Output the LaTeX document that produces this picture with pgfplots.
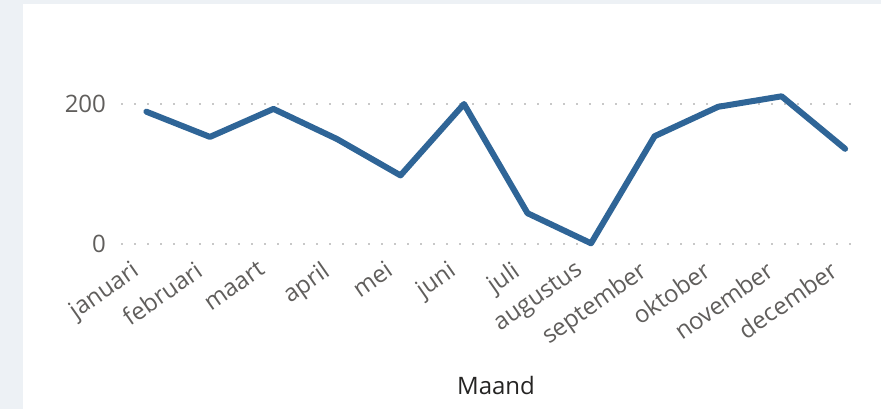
\documentclass[border=0pt]{standalone}
\usepackage{fontspec}
\setmainfont{Open Sans}
\usepackage{pgfplots}
\pgfplotsset{compat=1.18}
\definecolor{bgc}{HTML}{EDF1F5}
\definecolor{linec}{HTML}{2F6597}
\definecolor{tickc}{HTML}{605E5C}
\definecolor{labc}{HTML}{252423}
\definecolor{gridc}{HTML}{C8C8C8}
\begin{document}
\begin{tikzpicture}
\useasboundingbox (0,0) rectangle (440.5pt,204.5pt);
\fill[bgc] (0,0) rectangle (440.5pt,204.5pt);
\fill[white] (11.5pt,0) rectangle (440.5pt,202.5pt);
\begin{axis}[
  at={(60.5pt,75.5pt)}, anchor=south west,
  scale only axis, width=370pt, height=112pt,
  xmin=-0.4, xmax=11.25, ymin=-20, ymax=300,
  axis line style={draw=none},
  major tick length=0pt,
  xtick={0,...,11},
  xticklabels={januari,februari,maart,april,mei,juni,juli,augustus,september,oktober,november,december},
  ytick={0,200},
  ymajorgrids,
  grid style={gridc, line width=1pt, dash pattern=on 1pt off 5.5pt},
  tick label style={font=\fontsize{12}{14}\selectfont, text=tickc},
  /pgf/number format/assume math mode=true,
  xticklabel style={rotate=35, anchor=north east, inner sep=1pt, xshift=-6pt, yshift=5pt},
  yticklabel style={xshift=-4pt},
  xlabel={Maand},
  xlabel style={at={(axis description cs:0.5,0)}, anchor=center, yshift=-63.5pt, xshift=2.5pt, font=\fontsize{12}{14}\selectfont, text=labc},
  clip=false,
]
\addplot[linec, line width=3pt, line join=round, line cap=round] coordinates {
(0,189) (1,153) (2,193) (3,150) (4,98) (5,200) (6,44) (7,1) (8,154) (9,196) (10,211) (11,136)
};
\end{axis}
\end{tikzpicture}
\end{document}
